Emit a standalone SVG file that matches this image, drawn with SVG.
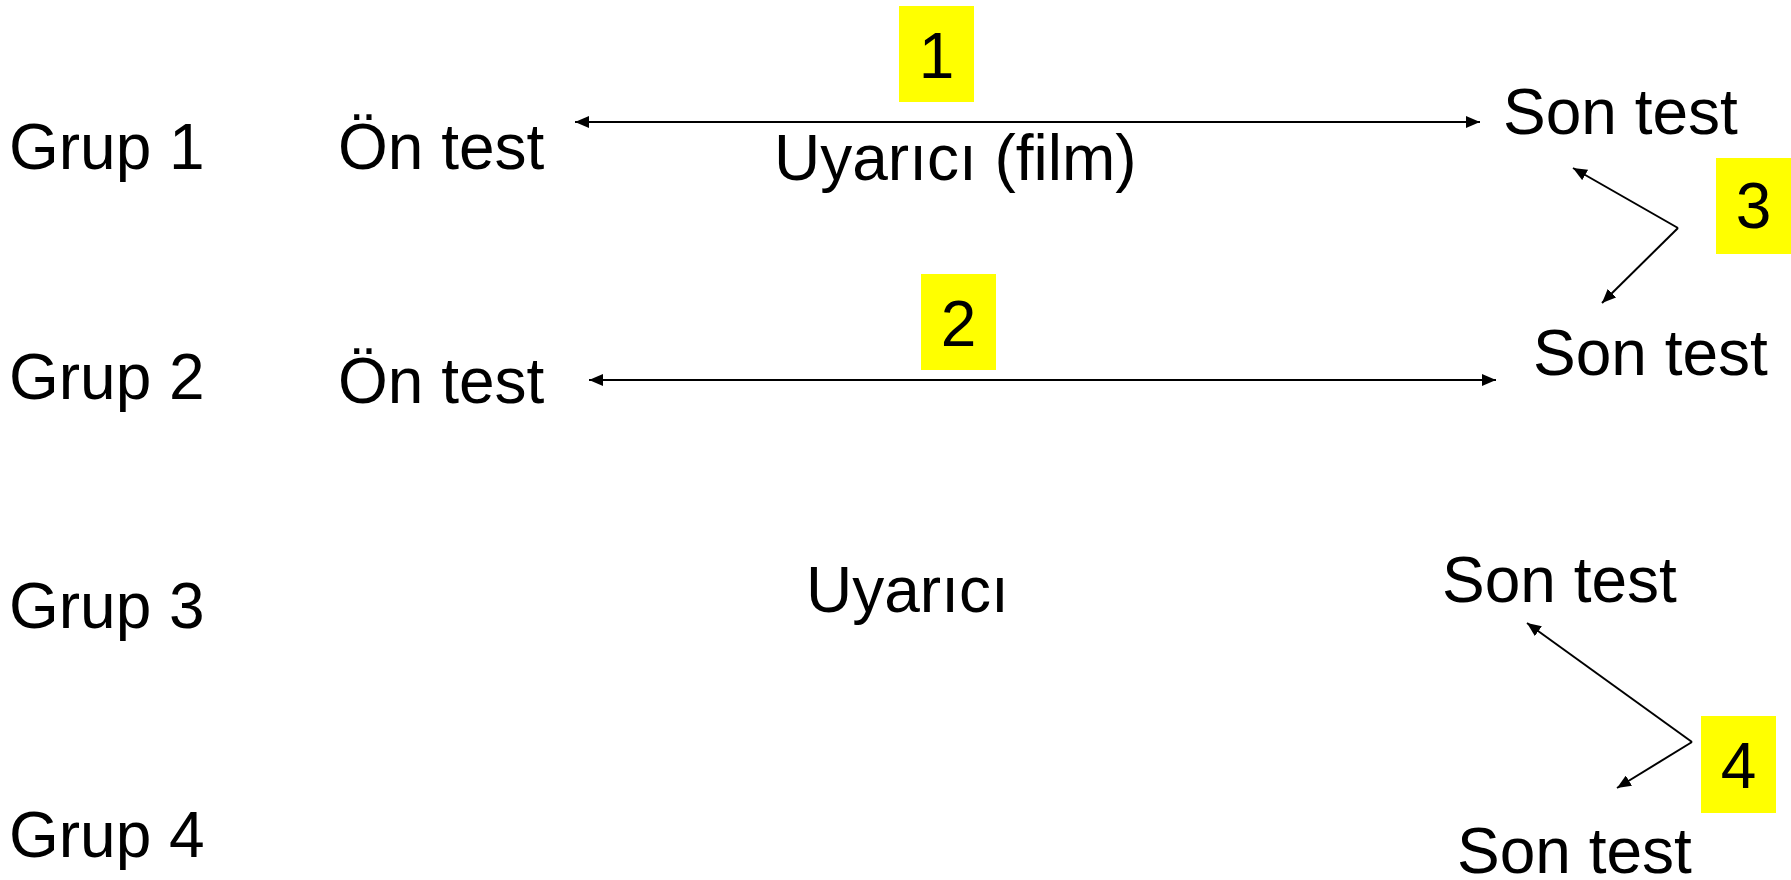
<svg xmlns="http://www.w3.org/2000/svg" width="1791" height="880" viewBox="0 0 1791 880">
<defs>
<style>
text{font-family:"Liberation Sans",Arial,sans-serif;font-size:64px;fill:#000}
.num{text-anchor:middle}
.box{fill:#FFFF00}
.conn{stroke:#000;stroke-width:2;fill:none;marker-end:url(#ah)}
.both{marker-start:url(#ah)}
</style>
<marker id="ah" viewBox="0 0 14 12" refX="14" refY="6" markerWidth="14" markerHeight="12" markerUnits="userSpaceOnUse" orient="auto-start-reverse">
<path d="M0,0 L14,6 L0,12 z" fill="#000"/>
</marker>
</defs>
<rect width="1791" height="880" fill="#fff"/>
<g id="labels">
<g id="grup1"><text x="9" y="169">Grup 1</text></g>
<g id="grup2"><text x="9" y="399">Grup 2</text></g>
<g id="grup3"><text x="9" y="628">Grup 3</text></g>
<g id="grup4"><text x="9" y="857">Grup 4</text></g>
</g>
<g id="ontest1"><text x="338" y="169">Ön test</text></g>
<g id="ontest2"><text x="338" y="403">Ön test</text></g>
<g id="uyarici-film"><text x="774" y="180">Uyarıcı (film)</text></g>
<g id="uyarici"><text x="806" y="612">Uyarıcı</text></g>
<g id="sontest1"><text x="1503" y="134">Son test</text></g>
<g id="sontest2"><text x="1533" y="375">Son test</text></g>
<g id="sontest3"><text x="1442" y="602">Son test</text></g>
<g id="sontest4"><text x="1457" y="873">Son test</text></g>
<g id="badge1"><rect class="box" x="899" y="6" width="75" height="96"/><text class="num" x="936.5" y="78">1</text></g>
<g id="badge2"><rect class="box" x="921" y="274" width="75" height="96"/><text class="num" x="958.5" y="346">2</text></g>
<g id="badge3"><rect class="box" x="1716" y="158" width="75" height="96"/><text class="num" x="1753.5" y="228">3</text></g>
<g id="badge4"><rect class="box" x="1701" y="716" width="75" height="97"/><text class="num" x="1738.5" y="788">4</text></g>
<g id="connectors">
<line class="conn both" x1="575" y1="122" x2="1480" y2="122"/>
<line class="conn both" x1="589" y1="380" x2="1496" y2="380"/>
<line class="conn" x1="1678" y1="228" x2="1573" y2="168"/>
<line class="conn" x1="1678" y1="228" x2="1602" y2="303"/>
<line class="conn" x1="1692" y1="742" x2="1527" y2="623"/>
<line class="conn" x1="1692" y1="742" x2="1617" y2="788"/>
</g>
</svg>
